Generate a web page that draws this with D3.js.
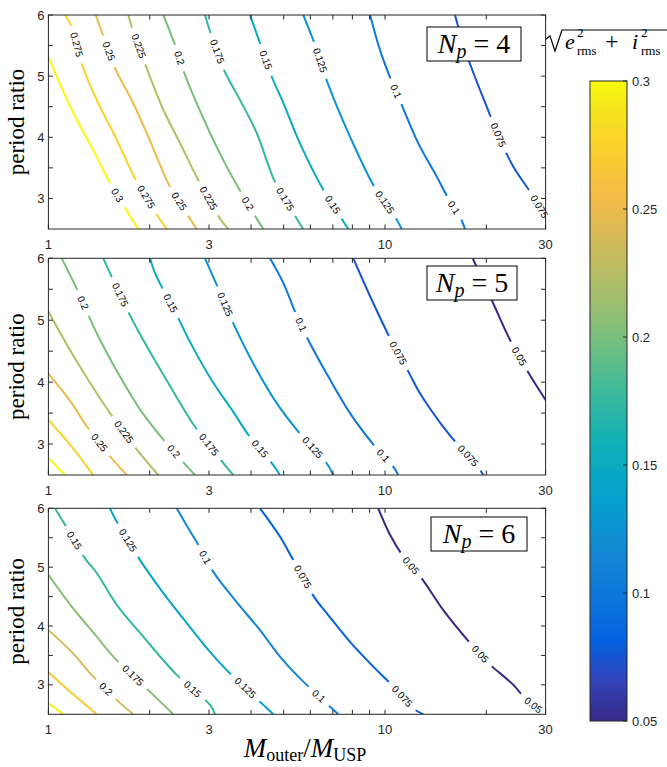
<!DOCTYPE html>
<html>
<head>
<meta charset="utf-8">
<script src="https://cdn.jsdelivr.net/npm/d3@7"></script>
<style>
  body { margin: 0; background: #fff; }
  svg { display: block; }
</style>
</head>
<body>
<script>
// Axis ticks
const xTickValues = [1, 3, 10, 30];
const xMinorTicks = [2, 4, 5, 6, 7, 8, 9, 20];
const yTickValues = [3, 4, 5, 6];
const yMinorTicks = [3.5, 4.5, 5.5];
const colorbarTicks = [0.05, 0.1, 0.15, 0.2, 0.25, 0.3];

// Number of planets per panel and the top of each panel's colour range
const planetCounts = [4, 5, 6];
const colorMin = 0.05;
const colorMax = [0.3, 0.3, 0.25];

// Contour lines: [level, [[M_outer/M_USP, period ratio], ...]]
const contoursNp4 = [
  [0.3,   [[1, 5.32], [1.173, 4.45], [1.392, 3.68], [1.507, 3.30], [1.669, 2.89], [1.85, 2.5]]],
  [0.275, [[1.12, 6], [1.173, 5.81], [1.264, 5.16], [1.392, 4.61], [1.596, 3.96], [1.808, 3.33], [2.12, 2.70], [2.246, 2.5]]],
  [0.25,  [[1.382, 6], [1.44, 5.73], [1.577, 5.13], [1.768, 4.61], [1.959, 4.07], [2.098, 3.68], [2.298, 3.19], [2.634, 2.67], [2.758, 2.5]]],
  [0.225, [[1.727, 6], [1.768, 5.81], [1.959, 5.13], [2.195, 4.45], [2.489, 3.85], [2.788, 3.30], [3.234, 2.67], [3.423, 2.5]]],
  [0.2,   [[2.195, 6], [2.378, 5.51], [2.546, 5.02], [3.021, 4.07], [3.386, 3.52], [3.752, 3.08], [4.158, 2.67], [4.35, 2.5]]],
  [0.175, [[2.919, 6], [3.021, 5.73], [3.324, 5.10], [3.709, 4.61], [4.158, 4.07], [4.712, 3.27], [5.466, 2.67], [5.707, 2.5]]],
  [0.15,  [[3.971, 6], [4.253, 5.54], [4.608, 4.99], [4.99, 4.56], [5.59, 3.90], [6.556, 3.14], [7.434, 2.67], [7.78, 2.5]]],
  [0.125, [[5.718, 6], [6.197, 5.51], [6.785, 4.86], [7.87, 4.01], [9.34, 3.17], [10.71, 2.70], [11.21, 2.5]]],
  [0.1,   [[9.03, 6], [9.66, 5.43], [10.47, 4.91], [11.21, 4.53], [12.56, 3.90], [14.24, 3.36], [15.6, 2.95], [16.7, 2.70], [17.29, 2.5]]],
  [0.075, [[16.14, 6], [17.49, 5.35], [20.05, 4.50], [22.22, 3.90], [24.06, 3.52], [27.59, 3.03], [30, 2.70]]]
];
const contoursNp5 = [
  [0.3,   [[1, 2.77], [1.12, 2.5]]],
  [0.275, [[1, 3.39], [1.173, 2.96], [1.359, 2.5]]],
  [0.25,  [[1, 4.14], [1.173, 3.66], [1.314, 3.25], [1.559, 2.74], [1.708, 2.5]]],
  [0.225, [[1, 5.14], [1.173, 4.47], [1.392, 3.82], [1.524, 3.50], [1.85, 2.88], [2.12, 2.5]]],
  [0.2,   [[1.095, 6], [1.219, 5.49], [1.392, 4.79], [1.632, 4.09], [1.893, 3.52], [2.221, 3.04], [2.726, 2.5]]],
  [0.175, [[1.456, 6], [1.542, 5.70], [1.747, 5.08], [1.913, 4.68], [2.246, 4.03], [2.726, 3.28], [3.346, 2.66], [3.542, 2.5]]],
  [0.15,  [[2.004, 6], [2.074, 5.76], [2.432, 5.03], [2.634, 4.65], [3.056, 4.03], [3.542, 3.52], [3.926, 3.15], [4.658, 2.66], [4.875, 2.5]]],
  [0.125, [[2.919, 6], [3.162, 5.57], [3.542, 4.95], [4.062, 4.30], [4.767, 3.66], [5.526, 3.20], [6.71, 2.69], [7.02, 2.5]]],
  [0.1,   [[4.553, 6], [4.99, 5.60], [5.403, 5.14], [5.853, 4.73], [6.785, 4.09], [7.87, 3.50], [9.34, 2.96], [10.59, 2.63], [10.95, 2.5]]],
  [0.075, [[8.05, 6], [9.13, 5.33], [10.35, 4.71], [11.73, 4.17], [12.7, 3.82], [14.74, 3.31], [16.51, 2.98], [18.73, 2.66], [19.59, 2.5]]],
  [0.05,  [[18.22, 6], [20.98, 5.27], [23.52, 4.68], [26.36, 4.20], [30, 3.71]]]
];
const contoursNp6 = [
  [0.25,  [[1, 2.69], [1.107, 2.5]]],
  [0.225, [[1, 3.22], [1.173, 2.86], [1.392, 2.5]]],
  [0.2,   [[1, 3.93], [1.173, 3.56], [1.359, 3.14], [1.634, 2.69], [1.788, 2.5]]],
  [0.175, [[1, 4.87], [1.173, 4.33], [1.392, 3.82], [1.577, 3.45], [2.049, 2.83], [2.35, 2.5]]],
  [0.15,  [[1.046, 6], [1.12, 5.72], [1.285, 5.15], [1.392, 4.90], [1.596, 4.36], [1.913, 3.82], [2.405, 3.17], [3.021, 2.66], [3.126, 2.5]]],
  [0.125, [[1.524, 6], [1.596, 5.77], [1.872, 5.12], [2.195, 4.56], [2.576, 4.05], [3.021, 3.56], [3.386, 3.25], [4.35, 2.66], [4.659, 2.5]]],
  [0.1,   [[2.406, 6], [2.604, 5.66], [2.788, 5.38], [3.09, 4.92], [3.584, 4.44], [4.253, 3.93], [4.875, 3.48], [5.59, 3.11], [6.866, 2.63], [7.264, 2.5]]],
  [0.075, [[4.253, 6], [4.875, 5.52], [5.34, 5.12], [6.197, 4.47], [6.71, 4.22], [7.87, 3.73], [9.34, 3.28], [10.35, 3.03], [12.13, 2.60], [13.0, 2.5]]],
  [0.05,  [[9.55, 6], [10.35, 5.55], [11.33, 5.18], [12.85, 4.81], [14.9, 4.27], [18.09, 3.68], [20.28, 3.37], [24.06, 3.00], [26.36, 2.74], [30, 2.5]]]
];

// Inline contour labels: [level, M_outer/M_USP, period ratio]
const labelsNp4 = [
  [0.3, 1.577, 3.03], [0.275, 1.2, 5.51], [0.275, 1.959, 3.03], [0.25, 1.496, 5.40], [0.25, 2.443, 2.95],
  [0.225, 1.83, 5.48], [0.225, 2.985, 3.0], [0.2, 2.432, 5.29], [0.2, 3.926, 2.92], [0.175, 3.162, 5.40],
  [0.175, 4.99, 2.97], [0.15, 4.401, 5.26], [0.15, 6.945, 2.89], [0.125, 6.41, 5.26], [0.125, 9.885, 2.92],
  [0.1, 10.71, 4.745], [0.1, 15.95, 2.84], [0.075, 24.3, 4.15], [0.075, 28.23, 2.84]
];
const labelsNp5 = [
  [0.25, 1.407, 3.01], [0.225, 1.651, 3.17], [0.2, 1.256, 5.27], [0.2, 2.378, 2.90], [0.175, 1.634, 5.41],
  [0.175, 2.985, 2.98], [0.15, 2.298, 5.27], [0.15, 4.204, 2.90], [0.125, 3.308, 5.245], [0.125, 6.056, 2.93],
  [0.1, 5.59, 4.92], [0.1, 9.78, 2.79], [0.075, 10.95, 4.47], [0.075, 17.49, 2.79], [0.05, 24.9, 4.41]
];
const labelsNp6 = [
  [0.2, 1.473, 2.913], [0.175, 1.788, 3.168], [0.15, 1.2, 5.46], [0.15, 2.665, 2.913], [0.125, 1.727, 5.46],
  [0.125, 3.793, 2.913], [0.1, 2.885, 5.15], [0.1, 6.337, 2.80], [0.075, 5.718, 4.84], [0.075, 11.21, 2.80],
  [0.05, 12.0, 5.037], [0.05, 19.06, 3.508], [0.05, 27.29, 2.62]
];

// parula colormap (subsampled)
const parula = ["#352A87", "#3243BA", "#0363E1", "#0D75DC", "#1485D4", "#0998D1", "#06A7C6", "#15B1B4",
  "#38B99E", "#65BE86", "#92BF73", "#B7BD64", "#D9BA56", "#F8BB44", "#FCCE2E", "#F5E41D", "#F9FB0E"];
const parulaStops = [0, 4, 8, 12, 16, 20, 24, 28, 32, 36, 40, 44, 48, 52, 56, 60, 63].map(k => k / 63);
const parulaScale = d3.scaleLinear().domain(parulaStops).range(parula).interpolate(d3.interpolateRgb).clamp(true);

const width = 667, height = 767;
const axisColor = "#262626";
const sansFont = "'Liberation Sans', Arial, Helvetica, sans-serif";
const serifFont = "'Liberation Serif', 'Times New Roman', serif";

const svg = d3.select("body").append("svg")
  .attr("width", width)
  .attr("height", height);

const x = d3.scaleLog().domain([1, 30]).range([48.4, 545.6]);

// Panel layout (pixels)
const panels = [
  { np: planetCounts[0], contours: contoursNp4, labels: labelsNp4, cmax: colorMax[0], top: 15, bottom: 229, boxX: 427, boxY: 27, boxW: 94 },
  { np: planetCounts[1], contours: contoursNp5, labels: labelsNp5, cmax: colorMax[1], top: 258.3, bottom: 475, boxX: 427, boxY: 266, boxW: 90 },
  { np: planetCounts[2], contours: contoursNp6, labels: labelsNp6, cmax: colorMax[2], top: 508.3, bottom: 714.3, boxX: 431, boxY: 517, boxW: 96 }
];

panels.forEach((p, i) => {
  const y = d3.scaleLinear().domain([2.5, 6]).range([p.bottom, p.top]);
  const t = d3.scaleLinear().domain([colorMin, p.cmax]).range([0, 1]);
  const g = svg.append("g");

  svg.append("clipPath").attr("id", "clip" + i)
    .append("rect")
    .attr("x", x(1)).attr("y", p.top)
    .attr("width", x(30) - x(1)).attr("height", p.bottom - p.top);

  const line = d3.line()
    .x(d => x(d[0]))
    .y(d => y(d[1]))
    .curve(d3.curveCatmullRom.alpha(0.5));

  // contour lines
  g.append("g").attr("clip-path", `url(#clip${i})`)
    .selectAll("path")
    .data(p.contours)
    .join("path")
    .attr("d", d => line(d[1]))
    .attr("fill", "none")
    .attr("stroke", d => parulaScale(t(d[0])))
    .attr("stroke-width", 2)
    .attr("stroke-linejoin", "round");

  // inline labels, snapped onto their line and rotated with it
  p.labels.forEach(([lev, m, pr]) => {
    const pts = p.contours.find(c => c[0] === lev)[1].map(d => [x(d[0]), y(d[1])]);
    const px = x(m), py = y(pr);
    let best = null;
    for (let k = 0; k < pts.length - 1; k++) {
      const [ax, ay] = pts[k], [bx, by] = pts[k + 1];
      const dx = bx - ax, dy = by - ay;
      let s = ((px - ax) * dx + (py - ay) * dy) / (dx * dx + dy * dy);
      s = Math.max(0, Math.min(1, s));
      const qx = ax + s * dx, qy = ay + s * dy;
      const dist = (qx - px) ** 2 + (qy - py) ** 2;
      if (!best || dist < best.dist) best = { dist, qx, qy, ang: Math.atan2(dy, dx) * 180 / Math.PI };
    }
    let ang = best.ang;
    if (ang > 90) ang -= 180;
    if (ang < -90) ang += 180;

    const lg = g.append("g").attr("transform", `translate(${best.qx},${best.qy}) rotate(${ang})`);
    const txt = lg.append("text")
      .attr("text-anchor", "middle")
      .attr("dy", "0.35em")
      .attr("font-family", sansFont)
      .attr("font-size", "10px")
      .attr("fill", "#000")
      .text(String(lev));
    const w = txt.node().getComputedTextLength();
    lg.insert("rect", "text")
      .attr("x", -w / 2 - 7).attr("y", -4)
      .attr("width", w + 14).attr("height", 8)
      .attr("fill", "#fff");
  });

  // N_p box
  const box = svg.append("g");
  box.append("rect")
    .attr("x", p.boxX).attr("y", p.boxY)
    .attr("width", p.boxW).attr("height", 34)
    .attr("fill", "#fff").attr("stroke", "#000").attr("stroke-width", 1);
  const bt = box.append("text")
    .attr("x", p.boxX + p.boxW / 2).attr("y", p.boxY + 26)
    .attr("text-anchor", "middle")
    .attr("font-family", serifFont)
    .attr("font-size", "28px");
  bt.append("tspan").attr("font-style", "italic").text("N");
  bt.append("tspan").attr("font-style", "italic").attr("font-size", "20px").attr("dy", 5).text("p");
  bt.append("tspan").attr("dy", -5).text(" = " + p.np);

  // frame and ticks
  const ax = svg.append("g").attr("stroke", axisColor).attr("stroke-width", 1).attr("fill", "none");
  ax.append("rect")
    .attr("x", x(1)).attr("y", p.top)
    .attr("width", x(30) - x(1)).attr("height", p.bottom - p.top);
  const tickLen = 4.5;
  xTickValues.concat(xMinorTicks).forEach(v => {
    ax.append("line").attr("x1", x(v)).attr("x2", x(v)).attr("y1", p.bottom).attr("y2", p.bottom - tickLen);
    ax.append("line").attr("x1", x(v)).attr("x2", x(v)).attr("y1", p.top).attr("y2", p.top + tickLen);
  });
  yTickValues.concat(yMinorTicks).forEach(v => {
    ax.append("line").attr("x1", x(1)).attr("x2", x(1) + tickLen).attr("y1", y(v)).attr("y2", y(v));
    ax.append("line").attr("x1", x(30)).attr("x2", x(30) - tickLen).attr("y1", y(v)).attr("y2", y(v));
  });

  // tick labels
  svg.append("g").selectAll("text")
    .data(xTickValues).join("text")
    .attr("x", d => x(d)).attr("y", p.bottom + 20)
    .attr("text-anchor", "middle")
    .attr("font-family", sansFont).attr("font-size", "13px").attr("fill", axisColor)
    .text(d => d);
  svg.append("g").selectAll("text")
    .data(yTickValues).join("text")
    .attr("x", x(1) - 4).attr("y", d => y(d))
    .attr("dy", "0.35em")
    .attr("text-anchor", "end")
    .attr("font-family", sansFont).attr("font-size", "13px").attr("fill", axisColor)
    .text(d => d);

  // y axis title
  svg.append("text")
    .attr("transform", `translate(24,${(p.top + p.bottom) / 2}) rotate(-90)`)
    .attr("text-anchor", "middle")
    .attr("font-family", serifFont).attr("font-size", "23px")
    .text("period ratio");
});

// x axis title
const xt = svg.append("text")
  .attr("x", 305).attr("y", 757)
  .attr("text-anchor", "middle")
  .attr("font-family", serifFont).attr("font-size", "27px");
xt.append("tspan").attr("font-style", "italic").text("M");
xt.append("tspan").attr("font-size", "18px").attr("dy", 4).text("outer");
xt.append("tspan").attr("dy", -4).text("/");
xt.append("tspan").attr("font-style", "italic").text("M");
xt.append("tspan").attr("font-size", "18px").attr("dy", 4).text("USP");

// colorbar
const cb = { x: 590, w: 37, top: 81, bottom: 721 };
const cy = d3.scaleLinear().domain([0.05, 0.3]).range([cb.bottom, cb.top]);
const grad = svg.append("defs").append("linearGradient")
  .attr("id", "parulaGrad").attr("x1", 0).attr("y1", 1).attr("x2", 0).attr("y2", 0);
parula.forEach((c, k) => grad.append("stop").attr("offset", parulaStops[k]).attr("stop-color", c));
svg.append("rect")
  .attr("x", cb.x).attr("y", cb.top)
  .attr("width", cb.w).attr("height", cb.bottom - cb.top)
  .attr("fill", "url(#parulaGrad)")
  .attr("stroke", axisColor).attr("stroke-width", 1);
svg.append("g").selectAll("line")
  .data(colorbarTicks).join("line")
  .attr("x1", cb.x + cb.w).attr("x2", cb.x + cb.w - 4)
  .attr("y1", d => cy(d)).attr("y2", d => cy(d))
  .attr("stroke", axisColor);
svg.append("g").selectAll("text")
  .data(colorbarTicks).join("text")
  .attr("x", cb.x + cb.w + 5).attr("y", d => cy(d))
  .attr("dy", "0.35em")
  .attr("font-family", sansFont).attr("font-size", "13px").attr("fill", axisColor)
  .text(d => d);

// colorbar title: sqrt(e_rms^2 + i_rms^2)
svg.append("path")
  .attr("d", "M546,39 L550,36 L555,51 L562,30 L667,30")
  .attr("fill", "none").attr("stroke", "#000").attr("stroke-width", 1.2);
const ct = svg.append("g").attr("font-family", serifFont).attr("fill", "#000");
ct.append("text").attr("x", 565).attr("y", 49).attr("font-size", "22px").attr("font-style", "italic").text("e");
ct.append("text").attr("x", 577).attr("y", 37).attr("font-size", "13px").text("2");
ct.append("text").attr("x", 577).attr("y", 55).attr("font-size", "13px").text("rms");
ct.append("text").attr("x", 605).attr("y", 49).attr("font-size", "24px").text("+");
ct.append("text").attr("x", 632).attr("y", 49).attr("font-size", "22px").attr("font-style", "italic").text("i");
ct.append("text").attr("x", 641).attr("y", 37).attr("font-size", "13px").text("2");
ct.append("text").attr("x", 641).attr("y", 55).attr("font-size", "13px").text("rms");
</script>
</body>
</html>
